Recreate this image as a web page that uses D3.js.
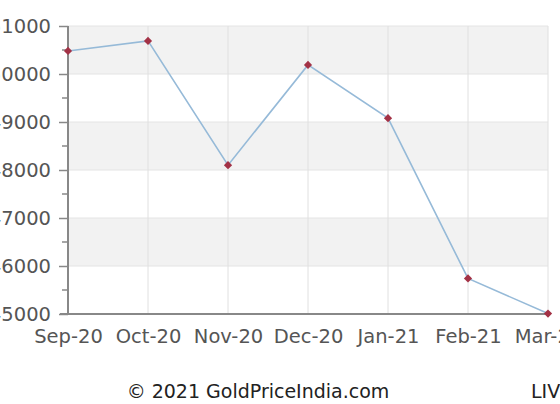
<!DOCTYPE html>
<meta charset="utf-8">
<style>
    body { margin: 0; background: #fff; }
    text { font-family: "DejaVu Sans", sans-serif; }
</style>
<svg width="560" height="404"></svg>
<script src="https://cdn.jsdelivr.net/npm/d3@7"></script>
<script>

    var months = ["Sep-20", "Oct-20", "Nov-20", "Dec-20", "Jan-21", "Feb-21", "Mar-21"];
    var prices = [50480, 50690, 48100, 50190, 49080, 45740, 45010];
    var yTicks = [45000, 46000, 47000, 48000, 49000, 50000, 51000];
    var footer = "© 2021 GoldPriceIndia.com";

    var svg = d3.select("svg");

    var x = d3.scalePoint()
        .domain(months)
        .range([68, 548]);

    var y = d3.scaleLinear()
        .domain([45000, 51000])
        .range([314, 26]);

    // alternating bands
    svg.append("g")
        .selectAll("rect")
        .data(yTicks.slice(0, -1))
        .enter().append("rect")
        .attr("x", 68)
        .attr("width", 548 - 68)
        .attr("y", function (d) { return y(d + 1000); })
        .attr("height", function (d) { return y(d) - y(d + 1000); })
        .attr("fill", function (d, i) { return (yTicks.length - 2 - i) % 2 === 0 ? "#f2f2f2" : "#fff"; });

    // grid lines
    svg.append("g")
        .selectAll("line")
        .data(yTicks)
        .enter().append("line")
        .attr("x1", 68).attr("x2", 548)
        .attr("y1", function (d) { return y(d); })
        .attr("y2", function (d) { return y(d); })
        .attr("stroke", "#e4e4e4");

    svg.append("g")
        .selectAll("line")
        .data(months.slice(1))
        .enter().append("line")
        .attr("x1", function (d) { return x(d); })
        .attr("x2", function (d) { return x(d); })
        .attr("y1", 26).attr("y2", 314)
        .attr("stroke", "#e0e0e0");

    // y axis
    var yAxis = svg.append("g")
        .attr("transform", "translate(68,0)")
        .call(d3.axisLeft(y).tickValues(yTicks).tickSize(9).tickPadding(8).tickFormat(d3.format("d")));
    yAxis.select(".domain").remove();
    yAxis.selectAll(".tick line").attr("stroke", "#888").attr("stroke-width", 1.5);
    yAxis.selectAll("text").attr("fill", "#555").attr("font-size", "19.5px")
        .attr("font-family", "DejaVu Sans, sans-serif");

    svg.append("g")
        .selectAll("line")
        .data(yTicks.slice(0, -1).map(function (d) { return d + 500; }))
        .enter().append("line")
        .attr("x1", 62).attr("x2", 68)
        .attr("y1", function (d) { return y(d); })
        .attr("y2", function (d) { return y(d); })
        .attr("stroke", "#888").attr("stroke-width", 1.5);

    svg.append("line")
        .attr("x1", 68).attr("x2", 68)
        .attr("y1", 26).attr("y2", 314)
        .attr("stroke", "#888").attr("stroke-width", 2);

    // x axis
    var xAxis = svg.append("g")
        .attr("transform", "translate(0,314)")
        .call(d3.axisBottom(x).tickSize(0).tickPadding(15));
    xAxis.select(".domain").remove();
    xAxis.selectAll("text").attr("fill", "#555").attr("font-size", "19.5px")
        .attr("font-family", "DejaVu Sans, sans-serif");

    svg.append("line")
        .attr("x1", 60).attr("x2", 548)
        .attr("y1", 314).attr("y2", 314)
        .attr("stroke", "#888").attr("stroke-width", 2);

    // line
    svg.append("path")
        .datum(prices)
        .attr("fill", "none")
        .attr("stroke", "#96bad8")
        .attr("stroke-width", 1.6)
        .attr("d", d3.line()
            .x(function (d, i) { return x(months[i]); })
            .y(function (d) { return y(d); }));

    svg.append("g")
        .selectAll("path")
        .data(prices)
        .enter().append("path")
        .attr("transform", function (d, i) { return "translate(" + x(months[i]) + "," + y(d) + ") rotate(45)"; })
        .attr("d", d3.symbol().type(d3.symbolSquare).size(34))
        .attr("fill", "#a33246");

    svg.append("text")
        .attr("x", 258).attr("y", 398)
        .attr("text-anchor", "middle")
        .attr("font-size", "19px")
        .attr("fill", "#222")
        .text(footer);

    svg.append("text")
        .attr("x", 531).attr("y", 398)
        .attr("font-size", "19px")
        .attr("fill", "#222")
        .text("LIVE");

</script>
